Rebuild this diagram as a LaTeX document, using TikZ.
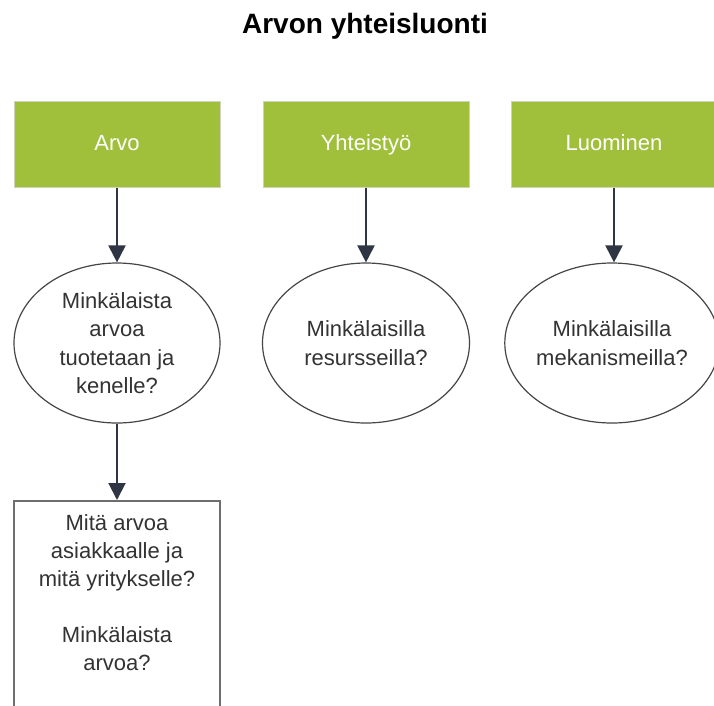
\documentclass[tikz,border=0pt]{standalone}
\usepackage{fontspec}
\setmainfont{Liberation Sans}
\usetikzlibrary{shapes.geometric,arrows.meta}
\definecolor{leaf}{RGB}{160,191,58}
\definecolor{leafedge}{RGB}{205,212,190}
\definecolor{ink}{RGB}{51,51,51}
\definecolor{arrowc}{RGB}{47,53,66}
\definecolor{outline}{RGB}{70,70,70}
\definecolor{boxedge}{RGB}{110,110,110}
\tikzset{
  headbox/.style={rectangle, fill=leaf, draw=leafedge, line width=1pt,
    minimum width=206pt, minimum height=86pt, inner sep=0pt,
    text height=16pt, text depth=4pt,
    text=white, font=\fontsize{22}{28}\selectfont},
  question/.style={ellipse, draw=outline, line width=1.2pt, fill=white,
    minimum height=160pt, inner sep=0pt, text=ink, align=center,
    font=\fontsize{22}{28.5}\selectfont},
  detailbox/.style={rectangle, draw=boxedge, line width=2pt, fill=white,
    minimum width=206pt, minimum height=230pt, inner sep=0pt},
  flow/.style={draw=arrowc, line width=2pt,
    -{Triangle[width=17pt,length=17pt]}},
}
\begin{document}
\begin{tikzpicture}[x=1pt,y=-1pt]
  \clip (0,0) rectangle (714,705);
  \fill[white] (0,0) rectangle (714,705);

  \node[font=\fontsize{28}{32}\selectfont\bfseries] (title) at (365,26) {Arvon yhteisluonti};

  % column heads
  \node[headbox] (arvo) at (117,144) {Arvo};
  \node[headbox] (yht)  at (366,144) {Yhteistyö};
  \node[headbox] (luo)  at (614,144) {Luominen};

  % questions
  \node[question, minimum width=206pt] (q1) at (117,343)
    {Minkälaista\\arvoa\\tuotetaan ja\\kenelle?};
  \node[question, minimum width=207pt] (q2) at (366,343)
    {Minkälaisilla\\resursseilla?};
  \node[question, minimum width=212pt] (q3) at (612,343)
    {Minkälaisilla\\mekanismeilla?};

  % detail box under the first column
  \node[detailbox, anchor=north] (d1) at (117,500) {};
  \node[anchor=north, align=center, text=ink, inner sep=0pt,
        font=\fontsize{22}{28}\selectfont] (d1text) at ([yshift=-14pt]d1.north)
    {Mitä arvoa\\asiakkaalle ja\\mitä yritykselle?\\[28pt]Minkälaista\\arvoa?};

  % connectors
  \draw[flow] (arvo.south) -- (q1.north);
  \draw[flow] (yht.south) -- (q2.north);
  \draw[flow] (luo.south) -- (luo.south |- q3.north);
  \draw[flow] (q1.south) -- (d1.north);
\end{tikzpicture}
\end{document}
